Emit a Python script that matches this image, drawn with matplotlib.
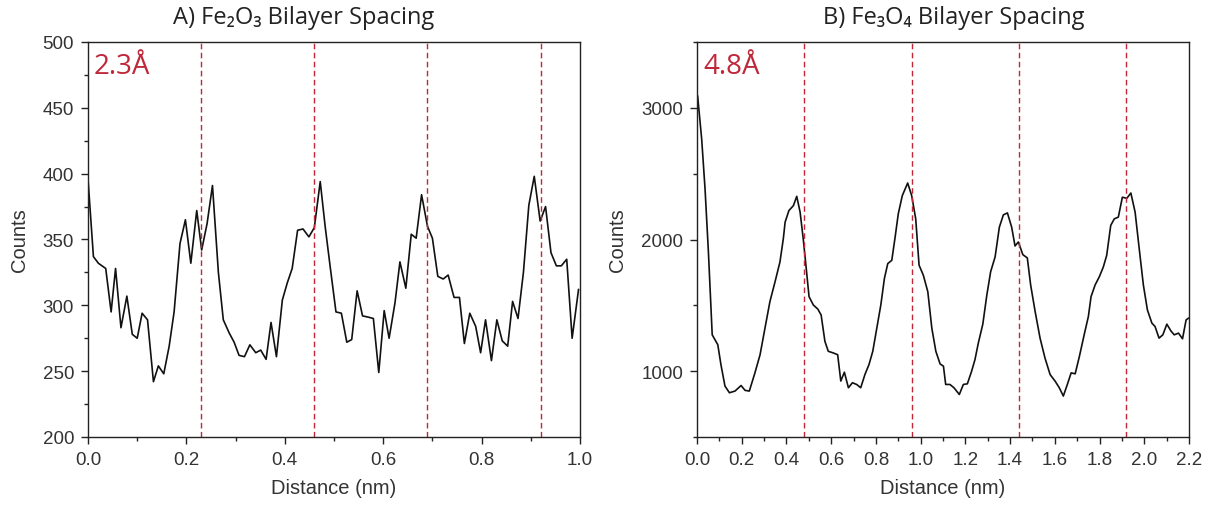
import matplotlib
matplotlib.use("Agg")
import matplotlib.pyplot as plt
from matplotlib.ticker import MultipleLocator

# ---------------- data ----------------
# A) Fe2O3 line profile
fe2o3_x = [0.000, 0.011, 0.021, 0.036, 0.047, 0.056, 0.067, 0.079, 0.090, 0.100,
           0.110, 0.121, 0.133, 0.143, 0.154, 0.165, 0.175, 0.187, 0.198, 0.209,
           0.221, 0.231, 0.242, 0.253, 0.265, 0.275, 0.287, 0.297, 0.307, 0.318,
           0.329, 0.341, 0.351, 0.362, 0.372, 0.383, 0.395, 0.405, 0.415, 0.426,
           0.437, 0.449, 0.460, 0.472, 0.482, 0.492, 0.504, 0.515, 0.526, 0.536,
           0.547, 0.558, 0.570, 0.580, 0.591, 0.602, 0.612, 0.624, 0.634, 0.646,
           0.657, 0.667, 0.678, 0.690, 0.700, 0.711, 0.722, 0.732, 0.744, 0.755,
           0.765, 0.776, 0.788, 0.798, 0.808, 0.820, 0.831, 0.842, 0.853, 0.863,
           0.874, 0.885, 0.896, 0.907, 0.919, 0.930, 0.941, 0.952, 0.962, 0.973,
           0.984, 0.997]
fe2o3_y = [396, 337, 332, 328, 295, 328, 283, 307, 278, 275,
           294, 289, 242, 254, 248, 269, 295, 347, 365, 332,
           372, 342, 362, 391, 325, 289, 279, 272, 262, 261,
           270, 264, 266, 259, 287, 261, 304, 317, 328, 357,
           358, 352, 359, 394, 360, 330, 295, 294, 272, 274,
           311, 292, 291, 290, 249, 296, 275, 302, 333, 313,
           354, 351, 384, 360, 351, 322, 320, 323, 306, 306,
           271, 294, 284, 264, 289, 258, 289, 273, 269, 303,
           290, 325, 376, 398, 364, 375, 340, 330, 330, 335,
           275, 312]
fe2o3_lines = [0.23, 0.46, 0.69, 0.92]

# B) Fe3O4 line profile
fe3o4_x = [0.003, 0.021, 0.036, 0.051, 0.068, 0.093, 0.107, 0.125, 0.145, 0.170,
           0.197, 0.215, 0.234, 0.259, 0.282, 0.304, 0.326, 0.349, 0.371, 0.386,
           0.394, 0.411, 0.431, 0.446, 0.461, 0.475, 0.487, 0.501, 0.520, 0.540,
           0.555, 0.572, 0.587, 0.610, 0.629, 0.643, 0.659, 0.677, 0.695, 0.714,
           0.732, 0.751, 0.769, 0.786, 0.804, 0.822, 0.838, 0.853, 0.871, 0.886,
           0.900, 0.918, 0.942, 0.960, 0.978, 0.993, 1.012, 1.032, 1.050, 1.068,
           1.087, 1.102, 1.112, 1.131, 1.149, 1.173, 1.191, 1.209, 1.228, 1.243,
           1.258, 1.278, 1.296, 1.313, 1.333, 1.352, 1.370, 1.388, 1.407, 1.422,
           1.437, 1.457, 1.477, 1.492, 1.512, 1.534, 1.556, 1.579, 1.601, 1.620,
           1.638, 1.656, 1.673, 1.691, 1.710, 1.732, 1.750, 1.762, 1.780, 1.799,
           1.817, 1.832, 1.850, 1.866, 1.884, 1.902, 1.922, 1.940, 1.959, 1.979,
           1.996, 2.014, 2.034, 2.048, 2.066, 2.083, 2.101, 2.119, 2.134, 2.153,
           2.171, 2.187, 2.197]
fe3o4_y = [3088, 2761, 2383, 1906, 1276, 1201, 1050, 887, 836, 849,
           891, 854, 849, 987, 1125, 1327, 1528, 1679, 1830, 2006,
           2132, 2220, 2257, 2328, 2208, 2006, 1805, 1566, 1503, 1472,
           1427, 1226, 1151, 1138, 1125, 925, 992, 874, 912, 899,
           874, 975, 1050, 1151, 1327, 1503, 1704, 1817, 1842, 2019,
           2195, 2333, 2429, 2333, 2157, 1805, 1729, 1604, 1327, 1151,
           1055, 1038, 899, 899, 874, 823, 899, 904, 1000, 1088,
           1214, 1357, 1578, 1755, 1868, 2094, 2187, 2202, 2094, 1951,
           1981, 1885, 1860, 1654, 1453, 1251, 1100, 974, 925, 874,
           811, 899, 987, 980, 1113, 1282, 1415, 1566, 1654, 1717,
           1792, 1880, 2107, 2157, 2170, 2321, 2313, 2353, 2208, 1906,
           1654, 1465, 1365, 1340, 1251, 1276, 1357, 1306, 1276, 1289,
           1246, 1389, 1402]
fe3o4_lines = [0.48, 0.96, 1.44, 1.92]

titles = ["A) Fe\u2082O\u2083 Bilayer Spacing", "B) Fe\u2083O\u2084 Bilayer Spacing"]
labels = ["2.3\u00c5", "4.8\u00c5"]

# ---------------- style ----------------
plt.rcParams["font.family"] = ["Liberation Sans", "DejaVu Sans"]
plt.rcParams["axes.linewidth"] = 1.0
plt.rcParams["axes.edgecolor"] = "#222222"
plt.rcParams["xtick.color"] = "#222222"
plt.rcParams["ytick.color"] = "#222222"
plt.rcParams["xtick.labelcolor"] = "#333333"
plt.rcParams["ytick.labelcolor"] = "#333333"

red = "#c0283a"
W, H = 1207, 506
fig = plt.figure(figsize=(W / 100, H / 100), dpi=100)

ax1 = fig.add_axes([88 / W, 1 - 438 / H, 492 / W, 395 / H])
ax2 = fig.add_axes([697 / W, 1 - 438 / H, 492 / W, 395 / H])

ax1.plot(fe2o3_x, fe2o3_y, color="#111111", lw=1.2)
for v in fe2o3_lines:
    ax1.axvline(v, color=red, lw=1.0, ls=(0, (4, 2.5)))
ax1.set_xlim(0, 1.0)
ax1.set_ylim(200, 500)
ax1.xaxis.set_major_locator(MultipleLocator(0.2))
ax1.xaxis.set_minor_locator(MultipleLocator(0.1))
ax1.yaxis.set_major_locator(MultipleLocator(50))
ax1.yaxis.set_minor_locator(MultipleLocator(25))

ax2.plot(fe3o4_x, fe3o4_y, color="#111111", lw=1.2)
for v in fe3o4_lines:
    ax2.axvline(v, color=red, lw=1.0, ls=(0, (4, 2.5)))
ax2.set_xlim(0, 2.2)
ax2.set_ylim(500, 3500)
ax2.xaxis.set_major_locator(MultipleLocator(0.2))
ax2.xaxis.set_minor_locator(MultipleLocator(0.1))
ax2.yaxis.set_major_locator(MultipleLocator(1000))
ax2.yaxis.set_minor_locator(MultipleLocator(500))

for ax, lab in zip([ax1, ax2], labels):
    ax.tick_params(which="major", direction="out", length=5, width=1.0, labelsize=13.5, pad=5)
    ax.tick_params(which="minor", direction="out", length=3, width=1.0)
    ax.xaxis.set_major_formatter(plt.FormatStrFormatter("%.1f"))
    ax.set_xlabel("Distance (nm)", fontsize=14.5, color="#333333", labelpad=7)
    ax.set_ylabel("Counts", fontsize=14.5, color="#333333", labelpad=10)
    ax.text(0.012, 0.975, lab, transform=ax.transAxes, ha="left", va="top",
            fontsize=20, color=red, family=["Open Sans", "DejaVu Sans"])

# titles
fig.text(304 / W, 1 - 18 / H, titles[0], ha="center", va="center", fontsize=17,
         color="#222222", family=["Open Sans", "DejaVu Sans"])
fig.text(954 / W, 1 - 18 / H, titles[1], ha="center", va="center", fontsize=17,
         color="#222222", family=["Open Sans", "DejaVu Sans"])

plt.savefig("out.png", dpi=100)
